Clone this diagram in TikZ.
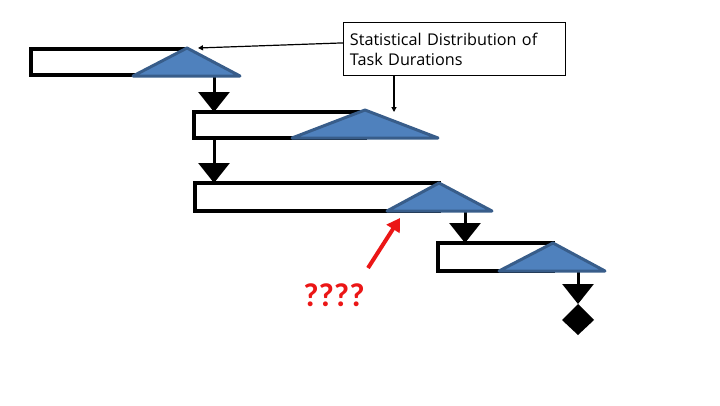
\documentclass[tikz,border=0pt]{standalone}
\usepackage{fontspec}
\setmainfont{Carlito}
\newfontfamily\notefont[Ligatures=NoCommon]{Open Sans}
\usetikzlibrary{arrows.meta}
\definecolor{taskblue}{RGB}{79,129,189}
\definecolor{taskedge}{RGB}{56,93,138}
\definecolor{askred}{RGB}{235,22,22}
\begin{document}
\begin{tikzpicture}[x=1pt,y=-1pt,
    bar/.style={line width=4pt},
    spread/.style={fill=taskblue, draw=taskedge, line width=3pt, line join=round},
    flow/.style={line width=3pt, -{Triangle[length=20pt,width=31pt]}},
    pointer/.style={line width=1.2pt, -{Triangle[length=5pt,width=5pt]}}]
    \useasboundingbox (0,0) rectangle (720,405);

    % Task points (apex and base of each spread)
    \coordinate (t1) at (187,48);  \coordinate (t1l) at (133,76);  \coordinate (t1r) at (240,76);
    \coordinate (t2) at (365,110); \coordinate (t2l) at (292,138); \coordinate (t2r) at (438,138);
    \coordinate (t3) at (439,183); \coordinate (t3l) at (387,211); \coordinate (t3r) at (492,211);
    \coordinate (t4) at (553,243); \coordinate (t4l) at (499,271); \coordinate (t4r) at (605,271);

    % Task bars
    \draw[bar] (31,49) rectangle (187,75);
    \draw[bar] (194,112) rectangle (365,138);
    \draw[bar] (195,183) rectangle (439,211);
    \draw[bar] (438,243) rectangle (553,271);

    % Flow arrows between tasks
    \coordinate (f1a) at (214,77);  \coordinate (f1b) at (214,112);
    \coordinate (f2a) at (214,139); \coordinate (f2b) at (214,183);
    \coordinate (f3a) at (465,212); \coordinate (f3b) at (465,243);
    \coordinate (f4a) at (578,272); \coordinate (f4b) at (578,304);
    \draw[flow] (f1a) -- (f1b);
    \draw[flow] (f2a) -- (f2b);
    \draw[flow] (f3a) -- (f3b);
    \draw[flow] (f4a) -- (f4b);

    % End milestone
    \fill (f4b) -- (594,320) -- (578,335) -- (562,320) -- cycle;

    % Duration spreads
    \draw[spread] (t1l) -- (t1) -- (t1r) -- cycle;
    \draw[spread] (t2l) -- (t2) -- (t2r) -- cycle;
    \draw[spread] (t3l) -- (t3) -- (t3r) -- cycle;
    \draw[spread] (t4l) -- (t4) -- (t4r) -- cycle;

    % Callout
    \node[draw, line width=0.8pt, anchor=north west, align=left,
          text width=209pt, inner xsep=6.5pt, minimum height=53pt,
          font=\notefont\fontsize{16.2}{20}\selectfont] (note) at (343,22)
        {Statistical Distribution of\\Task Durations};
    \coordinate (p1) at (198,48);
    \coordinate (p2) at (394,112);
    \draw[pointer] ([yshift=6pt]note.west) -- (p1);
    \draw[pointer] (note.south -| p2) -- (p2);

    % Unknown
    \node[text=askred, font=\bfseries\fontsize{33}{33}\selectfont] (ask) at (334,295) {????};
    \coordinate (qtail) at (368,268);
    \coordinate (qtip) at (400,218);
    \draw[askred, line width=4pt, -{Triangle[length=13pt,width=15pt]}] (qtail) -- (qtip);
\end{tikzpicture}
\end{document}
